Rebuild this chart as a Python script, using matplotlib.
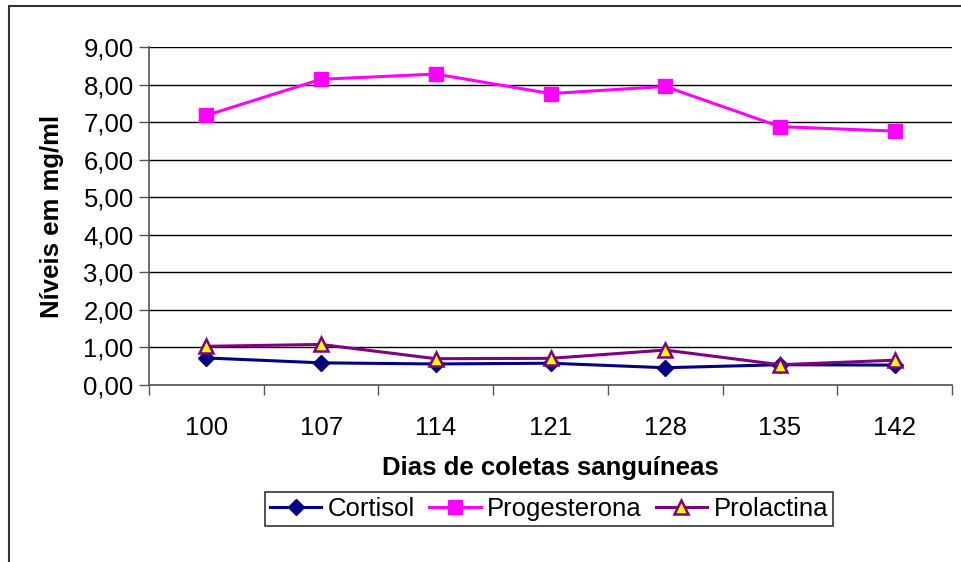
import matplotlib
matplotlib.use("Agg")
import matplotlib.pyplot as plt
from matplotlib.patches import Rectangle
from matplotlib.ticker import FuncFormatter, MultipleLocator

plt.rcParams['font.family'] = ['Liberation Sans', 'DejaVu Sans']

dias = ["100", "107", "114", "121", "128", "135", "142"]
cortisol = [0.72, 0.59, 0.56, 0.58, 0.46, 0.54, 0.53]
progesterona = [7.18, 8.14, 8.28, 7.76, 7.95, 6.88, 6.76]
prolactina = [1.03, 1.08, 0.70, 0.71, 0.93, 0.54, 0.66]

fig = plt.figure(figsize=(9.61, 5.62), dpi=100)
W, H = 961, 562
left, right, top, bottom = 149, 952, 47, 385
ax = fig.add_axes([left / W, 1 - bottom / H, (right - left) / W, (bottom - top) / H])

x = list(range(len(dias)))
ax.plot(x, cortisol, color='#000080', lw=2.2, marker='D', ms=8.5,
        mfc='#000080', mec='#000080', label='Cortisol', zorder=3)
ax.plot(x, progesterona, color='#FF00FF', lw=2.2, marker='s', ms=10.5,
        mfc='#FF00FF', mec='#FF00FF', label='Progesterona', zorder=3)
ax.plot(x, prolactina, color='#800080', lw=2.2, marker='^', ms=10,
        mfc='#FFFF00', mec='#800080', mew=1.8, label='Prolactina', zorder=4)

FS = 18.5
ax.set_xlim(-0.5, len(dias) - 0.5)
ax.set_ylim(0, 9)
ax.yaxis.set_major_locator(MultipleLocator(1))
ax.yaxis.set_major_formatter(FuncFormatter(lambda v, p: f"{v:.2f}".replace('.', ',')))
ax.set_xticks(x)
ax.set_xticklabels(dias)
ax.set_xticks([i - 0.5 for i in range(len(dias) + 1)], minor=True)
ax.tick_params(axis='x', which='major', length=0, labelsize=FS, pad=22)
ax.tick_params(axis='x', which='minor', length=7, width=1, color='#555555')
ax.tick_params(axis='y', length=7, width=1, color='#555555', labelsize=FS, pad=4)

ax.grid(axis='y', color='black', lw=1)
ax.set_axisbelow(True)
for s in ['top', 'right']:
    ax.spines[s].set_visible(False)
for s in ['left', 'bottom']:
    ax.spines[s].set_color('#555555')
    ax.spines[s].set_linewidth(1.2)

ax.set_ylabel('Níveis em mg/ml', fontsize=FS, fontweight='bold', labelpad=14)
ax.set_xlabel('Dias de coletas sanguíneas', fontsize=FS, fontweight='bold', labelpad=12)

leg = fig.legend(loc='center', bbox_to_anchor=(549 / W, 1 - 509 / H), ncol=3,
                 fontsize=FS, frameon=True, fancybox=False, edgecolor='black',
                 handlelength=2.0, handletextpad=0.25, columnspacing=0.55,
                 borderpad=0.18, borderaxespad=0)
leg.get_frame().set_linewidth(1.2)

fig.patches.append(Rectangle((9 / W, -0.1), 1.1, 1 - 6 / H + 0.1, transform=fig.transFigure,
                             fill=False, edgecolor='#333333', lw=1.5))

fig.savefig('out.png', dpi=100)
